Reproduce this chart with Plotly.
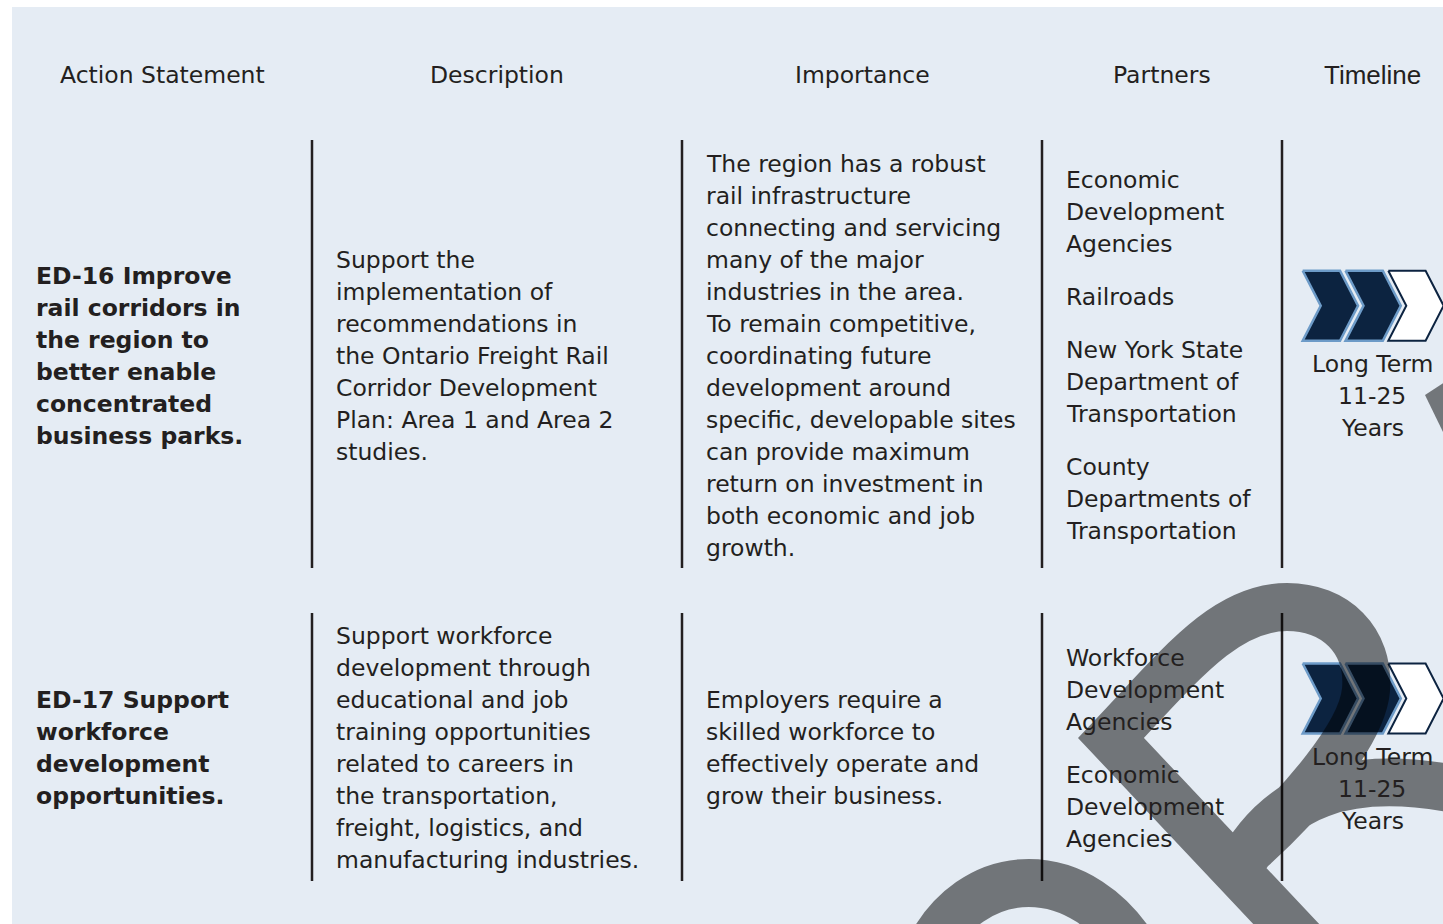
import plotly.graph_objects as go

W, H = 1443, 924

# ---------------- data ----------------
headers = ["Action Statement", "Description", "Importance", "Partners", "Timeline"]
header_x = [162, 497, 862, 1162, 1372]
header_y = 75

col_x = [33.5, 333.5, 703.5, 1063.5]
divider_x = [312, 682, 1042, 1282]
row_spans = [(140, 568), (613, 881)]
line_h = 32
group_gap = 21

action_lines = [
    ["ED-16 Improve", "rail corridors in", "the region to", "better enable",
     "concentrated", "business parks."],
    ["ED-17 Support", "workforce", "development", "opportunities."],
]
action_y0 = [276, 700]

desc_lines = [
    ["Support the", "implementation of", "recommendations in",
     "the Ontario Freight Rail", "Corridor Development",
     "Plan: Area 1 and Area 2", "studies."],
    ["Support workforce", "development through", "educational and job",
     "training opportunities", "related to careers in", "the transportation,",
     "freight, logistics, and", "manufacturing industries."],
]
desc_y0 = [260, 636]

imp_lines = [
    ["The region has a robust", "rail infrastructure", "connecting and servicing",
     "many of the major", "industries in the area.", "To remain competitive,",
     "coordinating future", "development around", "specific, developable sites",
     "can provide maximum", "return on investment in", "both economic and job",
     "growth."],
    ["Employers require a", "skilled workforce to", "effectively operate and",
     "grow their business."],
]
imp_y0 = [164, 700]

partner_groups = [
    [["Economic", "Development", "Agencies"], ["Railroads"],
     ["New York State", "Department of", "Transportation"],
     ["County", "Departments of", "Transportation"]],
    [["Workforce", "Development", "Agencies"],
     ["Economic", "Development", "Agencies"]],
]
partner_y0 = [180, 658]

timeline_label = [["Long Term", "11-25", "Years"], ["Long Term", "11-25", "Years"]]
timeline_y0 = [364, 757]
timeline_cx = 1372
chevron_filled = [2, 2]
chevron_total = 3
chevron_top = [270.7, 663.5]
chevron_x0 = 1302.7
chevron_step = 42.8
chevron_h = 70.0
chevron_flat = 37.3
chevron_point = 18.0

TEXT = "#231f20"
BG = "#e5ecf4"
NAVY = "#0c2340"
LIGHT = "#6d9bc8"
FONT = "DejaVu Sans"

fig = go.Figure()

# chevrons
for r in range(2):
    top = chevron_top[r]
    bot = top + chevron_h
    mid = (top + bot) / 2
    for i in range(chevron_total):
        x0 = chevron_x0 + i * chevron_step
        xs = [x0, x0 + chevron_flat, x0 + chevron_flat + chevron_point,
              x0 + chevron_flat, x0, x0 + chevron_point, x0]
        ys = [top, top, mid, bot, bot, mid, top]
        filled = i < chevron_filled[r]
        fig.add_trace(go.Scatter(
            x=xs, y=ys, mode="lines", fill="toself",
            fillcolor=NAVY if filled else "white",
            line=dict(color=LIGHT if filled else NAVY, width=2.5 if filled else 2),
            hoverinfo="skip", showlegend=False))

shapes = []
# background panel
shapes.append(dict(type="rect", xref="x", yref="y", x0=12, x1=W + 5, y0=7, y1=H + 5,
                   fillcolor=BG, line=dict(width=0), layer="below"))
# dividers
for (y0, y1) in row_spans:
    for xd in divider_x:
        shapes.append(dict(type="line", xref="x", yref="y", x0=xd, x1=xd, y0=y0, y1=y1,
                           line=dict(color=TEXT, width=2.5), layer="below"))

# watermark ribbon (decorative)
wm_path = ("M 925 958 C 970 858, 1085 858, 1140 958 "
           "M 1322 962 L 1111 738 C 1180 665, 1225 607, 1287 607 "
           "C 1335 607, 1370 640, 1366 690 C 1362 735, 1300 805, 1250 850 "
           "M 1235 875 C 1275 795, 1345 765, 1470 792")
shapes.append(dict(type="path", xref="x", yref="y", path=wm_path,
                   line=dict(color="black", width=48), fillcolor="rgba(0,0,0,0)",
                   opacity=0.5, layer="above"))
shapes.append(dict(type="path", xref="x", yref="y",
                   path="M 1425 395 L 1460 372 L 1460 467 Z",
                   line=dict(width=0), fillcolor="black", opacity=0.5, layer="above"))

ann = []
for h, hx in zip(headers, header_x):
    fam = "Liberation Sans" if h == "Timeline" else FONT
    sz = 26 if h == "Timeline" else 23.5
    ann.append(dict(x=hx, y=header_y, text=h, showarrow=False, xanchor="center",
                    yanchor="middle", font=dict(family=fam, size=sz, color=TEXT)))

def add_lines(lines, x, y0, bold=False):
    for k, t in enumerate(lines):
        ann.append(dict(x=x, y=y0 + k * line_h, text=("<b>%s</b>" % t) if bold else t,
                        showarrow=False, xanchor="left", yanchor="middle",
                        font=dict(family=FONT, size=23.5, color=TEXT)))

for r in range(2):
    add_lines(action_lines[r], col_x[0], action_y0[r], bold=True)
    add_lines(desc_lines[r], col_x[1], desc_y0[r])
    add_lines(imp_lines[r], col_x[2], imp_y0[r])
    y = partner_y0[r]
    for g in partner_groups[r]:
        add_lines(g, col_x[3], y)
        y += len(g) * line_h + group_gap
    for k, t in enumerate(timeline_label[r]):
        ann.append(dict(x=timeline_cx, y=timeline_y0[r] + k * line_h, text=t,
                        showarrow=False, xanchor="center", yanchor="middle",
                        font=dict(family=FONT, size=23.5, color=TEXT)))

fig.update_layout(
    width=W, height=H, margin=dict(l=0, r=0, t=0, b=0),
    paper_bgcolor="white", plot_bgcolor="white",
    xaxis=dict(range=[0, W], visible=False, fixedrange=True),
    yaxis=dict(range=[H, 0], visible=False, fixedrange=True),
    shapes=shapes, annotations=ann, showlegend=False,
)
fig.write_html("out.html", config={"displayModeBar": False},
               post_script="document.body.style.margin='0';document.body.style.overflow='hidden';")
